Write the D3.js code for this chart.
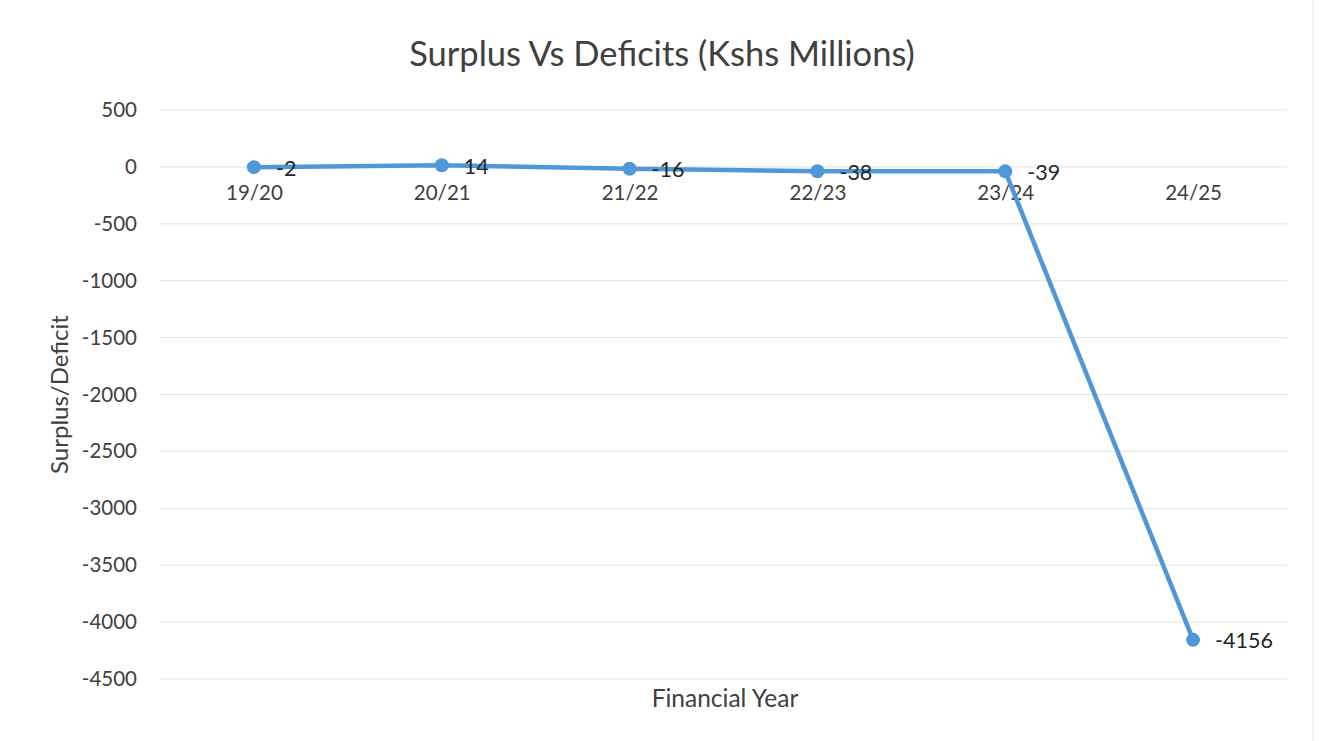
<!DOCTYPE html>
<html>
<head>
<meta charset="utf-8">
<script src="https://cdn.jsdelivr.net/npm/d3@7"></script>
<style>
  body { margin: 0; background: #fff; }
  svg text { font-family: Lato, "Open Sans", sans-serif; fill: #404040; }
</style>
</head>
<body>
<script>
let years = ["19/20", "20/21", "21/22", "22/23", "23/24", "24/25"];
let balance = [-2, 14, -16, -38, -39, -4156];
let yTicks = [500, 0, -500, -1000, -1500, -2000, -2500, -3000, -3500, -4000, -4500];

let width = 1319;
let height = 741;

let margin = {
    left: 160,
    right: 32,
    top: 110,
    bottom: 62
};

let svg = d3.select("body").append("svg").attr("width", width).attr("height", height);

let x = d3.scalePoint()
        .domain(years)
        .range([margin.left, width - margin.right])
        .padding(0.5);
let y = d3.scaleLinear()
        .domain([-4500, 500])
        .range([height - margin.bottom, margin.top]);

// faint gridlines
svg.append("g")
    .selectAll("line")
    .data(yTicks)
    .join("line")
    .attr("x1", margin.left)
    .attr("x2", width - margin.right)
    .attr("y1", (d) => y(d))
    .attr("y2", (d) => y(d))
    .attr("stroke", "#e4e4e4")
    .attr("stroke-width", 1);

// y axis labels, plain numbers like Excel
let yAxis = d3.axisLeft(y).tickValues(yTicks).tickSize(0).tickPadding(0).tickFormat((d) => String(d));
let yg = svg.append("g")
    .attr("transform", `translate(${margin.left - 23},0)`)
    .call(yAxis);
yg.select(".domain").remove();
yg.selectAll("text").attr("font-size", 20.5).style("font-family", "Lato, 'Open Sans', sans-serif").attr("fill", "#404040");

// x axis labels sitting under the zero line
let xAxis = d3.axisBottom(x).tickSize(0).tickPadding(19);
let xg = svg.append("g")
    .attr("transform", `translate(0,${y(0)})`)
    .call(xAxis);
xg.select(".domain").remove();
xg.selectAll("text").attr("font-size", 20.5).style("font-family", "Lato, 'Open Sans', sans-serif").attr("fill", "#404040");

let points = years.map((yr, i) => ({ year: yr, value: balance[i] }));

let line = d3.line()
    .x((d) => x(d.year))
    .y((d) => y(d.value));

svg.append("path")
    .attr("d", line(points))
    .attr("fill", "none")
    .attr("stroke", "#4f97d8")
    .attr("stroke-width", 4.5)
    .attr("stroke-linejoin", "round");

svg.append("g")
    .selectAll("circle")
    .data(points)
    .join("circle")
    .attr("cx", (d) => x(d.year))
    .attr("cy", (d) => y(d.value))
    .attr("r", 7)
    .attr("fill", "#4f97d8");

svg.append("g")
    .selectAll("text")
    .data(points)
    .join("text")
    .attr("x", (d) => x(d.year) + 22)
    .attr("y", (d) => y(d.value) + 1)
    .attr("dy", "0.35em")
    .attr("font-size", 21.5)
    .style("fill", "#262626")
    .text((d) => d.value);

svg.append("text")
    .attr("x", 662)
    .attr("y", 66)
    .attr("text-anchor", "middle")
    .attr("font-size", 34.5)
    .text("Surplus Vs Deficits (Kshs Millions)");

svg.append("text")
    .attr("x", 725)
    .attr("y", 707)
    .attr("text-anchor", "middle")
    .attr("font-size", 24.5)
    .text("Financial Year");

svg.append("text")
    .attr("transform", `translate(68,${(margin.top + height - margin.bottom) / 2}) rotate(-90)`)
    .attr("text-anchor", "middle")
    .attr("font-size", 24)
    .text("Surplus/Deficit");

// chart frame edge on the right
svg.append("line")
    .attr("x1", 1313).attr("x2", 1313)
    .attr("y1", 0).attr("y2", height)
    .attr("stroke", "#e8e8e8");
</script>
</body>
</html>
